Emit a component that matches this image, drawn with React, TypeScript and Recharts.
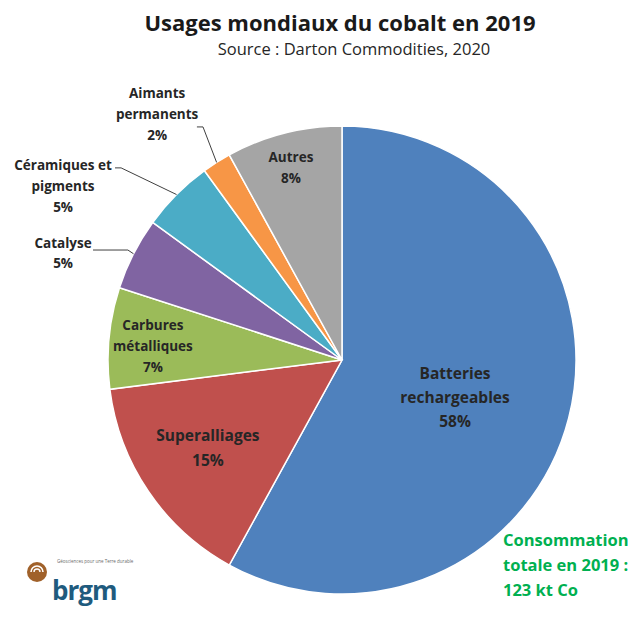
import React from "react";
import { PieChart, Pie, Cell } from "recharts";

const categories = [
  "Batteries rechargeables",
  "Superalliages",
  "Carbures métalliques",
  "Catalyse",
  "Céramiques et pigments",
  "Aimants permanents",
  "Autres",
];
const shares = [58, 15, 7, 5, 5, 2, 8];
const labelLines = [
  ["Batteries", "rechargeables"],
  ["Superalliages"],
  ["Carbures", "métalliques"],
  ["Catalyse"],
  ["Céramiques et", "pigments"],
  ["Aimants", "permanents"],
  ["Autres"],
];
const colors = ["#4F81BD", "#C0504D", "#9BBB59", "#8064A2", "#4BACC6", "#F79646", "#A5A5A5"];

const title = "Usages mondiaux du cobalt en 2019";
const subtitle = "Source : Darton Commodities, 2020";
const totalLines = ["Consommation", "totale en 2019 :", "123 kt Co"];

// label placement (fractions of outer radius, relative to pie centre)
const labelPos = [
  { fx: 0.483, fy: 0.158, fs: 15.5, lh: 24 },
  { fx: -0.573, fy: 0.372, fs: 15.5, lh: 25 },
  { fx: -0.808, fy: -0.06, fs: 13.5, lh: 21 },
  { fx: -1.192, fy: -0.457, fs: 13.5, lh: 20, leader: [-0.915, -0.47, -1.064] },
  { fx: -1.192, fy: -0.744, fs: 13.5, lh: 21, leader: [-0.944, -0.821, -0.97] },
  { fx: -0.79, fy: -1.051, fs: 13.5, lh: 21, leader: [-0.594, -0.996, -0.62] },
  { fx: -0.218, fy: -0.823, fs: 13.5, lh: 21 },
];

const data = categories.map((name, i) => ({ name, value: shares[i] }));
const FONT = "'Open Sans', sans-serif";

const RADIAN = Math.PI / 180;

const renderLabel = (props: any) => {
  const { cx, cy, midAngle, outerRadius, index, value } = props;
  const p = labelPos[index];
  const lines = [...labelLines[index], `${value}%`];
  const x = cx + p.fx * outerRadius;
  const y = cy + p.fy * outerRadius;
  const y0 = y - ((lines.length - 1) * p.lh) / 2;
  let leader = null;
  if (p.leader) {
    const ex = cx + outerRadius * Math.cos(-midAngle * RADIAN);
    const ey = cy + outerRadius * Math.sin(-midAngle * RADIAN);
    const bx = cx + p.leader[0] * outerRadius;
    const by = cy + p.leader[1] * outerRadius;
    const tx = cx + p.leader[2] * outerRadius;
    leader = (
      <polyline
        points={`${ex},${ey} ${bx},${by} ${tx},${by}`}
        fill="none"
        stroke="#404040"
        strokeWidth={1}
      />
    );
  }
  return (
    <g key={`lbl-${index}`}>
      {leader}
      {lines.map((t, k) => (
        <text
          key={k}
          x={x}
          y={y0 + k * p.lh}
          textAnchor="middle"
          dominantBaseline="central"
          fontFamily={FONT}
          fontWeight={700}
          fontSize={p.fs}
          fill="#262626"
        >
          {t}
        </text>
      ))}
    </g>
  );
};

export default function App() {
  return (
    <div
      style={{
        position: "absolute",
        left: 0,
        top: 0,
        width: 634,
        height: 621,
        background: "#ffffff",
        overflow: "hidden",
      }}
    >
      <PieChart
        width={634}
        height={621}
        margin={{ top: 0, right: 0, bottom: 0, left: 0 }}
        style={{ position: "absolute", left: 0, top: 0 }}
      >
        <text x={340} y={22} textAnchor="middle" dominantBaseline="central" fontFamily={FONT} fontWeight={700} fontSize={22} fill="#1a1a1a">
          {title}
        </text>
        <text x={354} y={48} textAnchor="middle" dominantBaseline="central" fontFamily={FONT} fontSize={16.5} fill="#262626">
          {subtitle}
        </text>
        <Pie
          data={data}
          dataKey="value"
          nameKey="name"
          cx={342}
          cy={360}
          outerRadius={234}
          startAngle={90}
          endAngle={-270}
          stroke="#ffffff"
          strokeWidth={1.5}
          label={renderLabel}
          labelLine={false}
          isAnimationActive={false}
        >
          {data.map((d, i) => (
            <Cell key={d.name} fill={colors[i]} />
          ))}
        </Pie>
        {totalLines.map((t, k) => (
          <text key={t} x={503} y={539 + k * 25} dominantBaseline="central" fontFamily={FONT} fontWeight={700} fontSize={16.5} fill="#00B050">
            {t}
          </text>
        ))}
        <g>
          <circle cx={37} cy={572} r={10} fill="#A0612A" />
          <path d="M31,572 a6,6 0 0 1 12,0" fill="none" stroke="#ffffff" strokeWidth={1.6} />
          <path d="M34,572 a3,3 0 0 1 6,0" fill="none" stroke="#ffffff" strokeWidth={1.4} />
          <text x={52} y={600} fontFamily="'Open Sans', sans-serif" fontWeight={700} fontSize={26} fill="#1F5B7E" letterSpacing={-1}>
            brgm
          </text>
          <text x={57} y={563} fontFamily={FONT} fontSize={4.5} fill="#6a6a6a">
            Géosciences pour une Terre durable
          </text>
        </g>
      </PieChart>
    </div>
  );
}
